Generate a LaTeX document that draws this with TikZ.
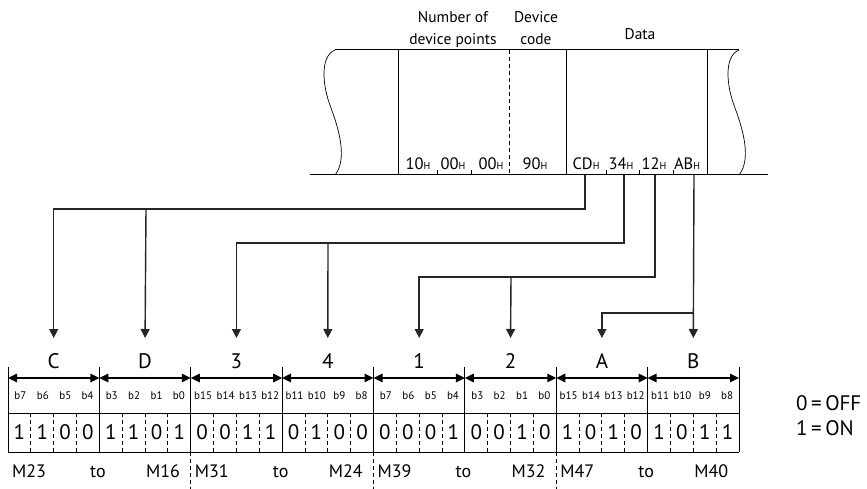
\documentclass[tikz,border=0pt]{standalone}
\usepackage{fontspec}
\setmainfont{PT Sans}
\usetikzlibrary{arrows.meta}
\newcommand\hx[1]{#1{\fontsize{10}{10}\selectfont H}}
\tikzset{
  frame/.style={line width=1pt, black},
  conn/.style={line width=1.4pt, black!85},
  arr/.style={conn, -{Triangle[width=9pt,length=9pt]}},
  dbl/.style={line width=1.4pt, {Triangle[width=8.5pt,length=9pt]}-{Triangle[width=8.5pt,length=9pt]}},
  dsh/.style={line width=0.9pt, dash pattern=on 4pt off 3pt},
  sep/.style={line width=1pt},
  hdr/.style={font=\fontsize{15.5}{15.5}\selectfont, inner sep=0pt, anchor=base},
  hex/.style={font=\fontsize{16.5}{16.5}\selectfont, inner sep=0pt, anchor=base},
  big/.style={font=\fontsize{21}{21}\selectfont, inner sep=0pt, anchor=base},
  bitl/.style={font=\fontsize{11}{11}\selectfont, inner sep=0pt, anchor=base},
  mlab/.style={font=\fontsize{18}{18}\selectfont, inner sep=0pt, anchor=base},
  leg/.style={font=\fontsize{21}{21}\selectfont, inner sep=0pt, anchor=base west},
}
\begin{document}
\begin{tikzpicture}[x=1pt,y=-1pt]
\useasboundingbox (0,0) rectangle (867,489);
% ---------- frame ----------
\draw[frame] (335,50) -- (739,50);
\draw[frame] (310,175) -- (768,175);
\draw[frame] (398,50) -- (398,175);
\draw[frame] (566,50) -- (566,175);
\draw[frame] (707,50) -- (707,175);
\draw[dsh] (509,50) -- (509,175);
\draw[line width=0.7pt] (335,50) .. controls (320,56) and (322,85) .. (331,108) .. controls (340,132) and (347,160) .. (335,175);
\draw[line width=0.7pt] (739,50) .. controls (724,56) and (726,85) .. (735,108) .. controls (744,132) and (751,160) .. (739,175);
\foreach \x in {437,471,606,639,673} \draw[line width=0.7pt] (\x,175) -- (\x,170);
% ---------- header texts ----------
\node[hdr] (hn1) at (453,23) {Number of};
\node[hdr] (hn2) at (453,45) {device points};
\node[hdr] (hd1) at (536,23) {Device};
\node[hdr] (hd2) at (536,45) {code};
\node[hdr] (hdt) at (640,40) {Data};
% ---------- hex values ----------
\node[hex] (h10) at (418,170) {\hx{10}};
\node[hex] (h00a) at (453,170) {\hx{00}};
\node[hex] (h00b) at (491,170) {\hx{00}};
\node[hex] (h90) at (535,170) {\hx{90}};
\node[hex] (hCD) at (586,170) {\hx{CD}};
\node[hex] (h34) at (621,170) {\hx{34}};
\node[hex] (h12) at (654,170) {\hx{12}};
\node[hex] (hAB) at (687,170) {\hx{AB}};
% ---------- source coordinates ----------
\coordinate (sCD) at (585,175);
\coordinate (s34) at (624,175);
\coordinate (s12) at (655,175);
\coordinate (sAB) at (694,175);
% ---------- nibble fields ----------
\foreach \i/\L/\ba/\bb/\bc/\bd/\va/\vb/\vc/\vd in {
  0/C/b7/b6/b5/b4/1/1/0/0,
  1/D/b3/b2/b1/b0/1/1/0/1,
  2/3/b15/b14/b13/b12/0/0/1/1,
  3/4/b11/b10/b9/b8/0/1/0/0,
  4/1/b7/b6/b5/b4/0/0/0/1,
  5/2/b3/b2/b1/b0/0/0/1/0,
  6/A/b15/b14/b13/b12/1/0/1/0,
  7/B/b11/b10/b9/b8/1/0/1/1}{
  \pgfmathsetmacro\xo{8+\i*91.375}
  \pgfmathsetmacro\xe{\xo+91.375}
  \pgfmathsetmacro\xc{\xo+45.69}
  \coordinate (t\i) at (\xc,338);
  \coordinate (a\i) at (\xo,378);
  \coordinate (b\i) at (\xe,378);
  \node[big] (L\i) at (\xc,368) {\L};
  \draw[dbl] (a\i) -- (b\i);
  \node[bitl] (bl\i a) at (\xo+12.4,399) {\ba};
  \node[bitl] (bl\i b) at (\xo+34.8,399) {\bb};
  \node[bitl] (bl\i c) at (\xo+57.3,399) {\bc};
  \node[bitl] (bl\i d) at (\xo+79.5,399) {\bd};
  \node[big] (v\i a) at (\xo+11.42,439) {\va};
  \node[big] (v\i b) at (\xo+34.27,439) {\vb};
  \node[big] (v\i c) at (\xo+57.11,439) {\vc};
  \node[big] (v\i d) at (\xo+79.95,439) {\vd};
  \foreach \j in {1,2,3} \draw[dsh] (\xo+\j*22.84,413) -- (\xo+\j*22.84,452);
}
\foreach \k in {0,...,8} \draw[sep] (8+\k*91.375,367) -- (8+\k*91.375,452);
\draw[sep] (8,413) -- (739,413);
\draw[sep] (8,452) -- (739,452);
% ---------- device labels ----------
\foreach \k/\ma/\mb in {0/M23/M16, 1/M31/M24, 2/M39/M32, 3/M47/M40}{
  \pgfmathsetmacro\xo{8+\k*182.75}
  \node[mlab] (ml\k) at (\xo+21,477) {\ma};
  \node[mlab] (mt\k) at (\xo+90,477) {to};
  \node[mlab] (mr\k) at (\xo+155,477) {\mb};
}
\foreach \k in {1,2,3} \draw[dsh] (8+\k*182.75,452) -- (8+\k*182.75,489);
% ---------- connectors ----------
\draw[arr] (sCD) |- (146,209) -| (t0);
\draw[arr] (146,209) -- (t1);
\draw[arr] (s34) |- (328,243) -| (t2);
\draw[arr] (328,243) -- (t3);
\draw[arr] (s12) |- (511,277) -| (t4);
\draw[arr] (511,277) -- (t5);
\draw[arr] (sAB) -- (t7);
\draw[arr] (694,313) -| (t6);
% ---------- legend ----------
\node[leg] (lg0) at (796,410) {0\,=\,OFF};
\node[leg] (lg1) at (796,435) {1\,=\,ON};
\end{tikzpicture}
\end{document}
